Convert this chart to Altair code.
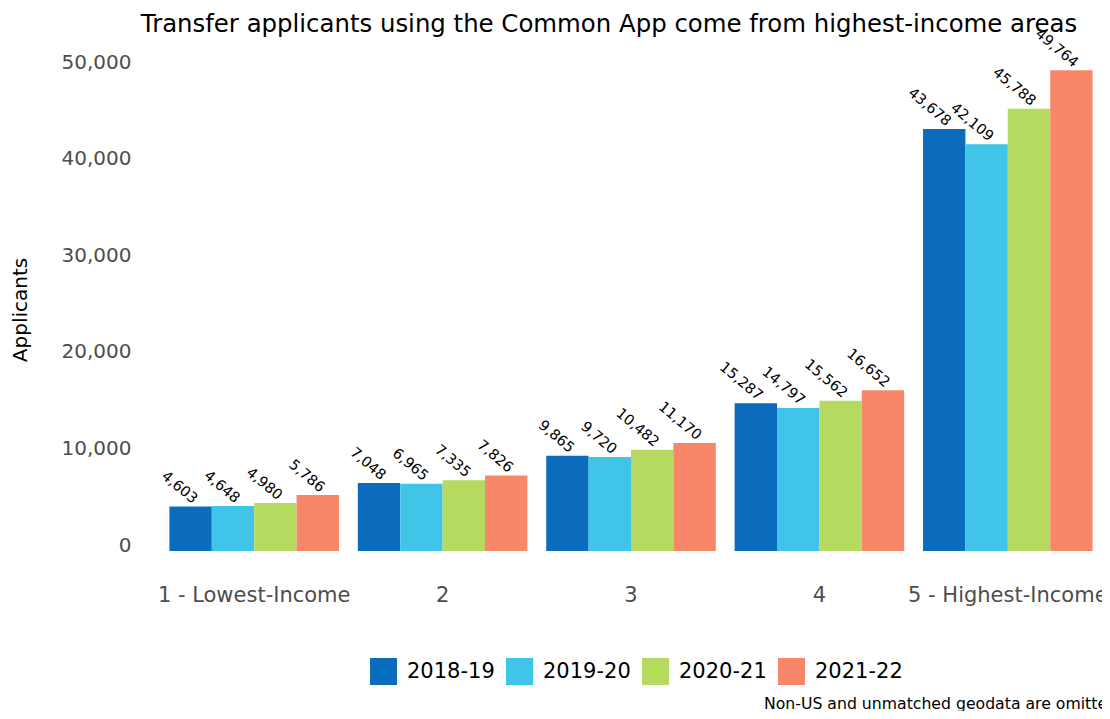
import altair as alt
import pandas as pd

groups = ["1 - Lowest-Income", "2", "3", "4", "5 - Highest-Income"]
years = ["2018-19", "2019-20", "2020-21", "2021-22"]
v_2018 = [4603, 7048, 9865, 15287, 43678]
v_2019 = [4648, 6965, 9720, 14797, 42109]
v_2020 = [4980, 7335, 10482, 15562, 45788]
v_2021 = [5786, 7826, 11170, 16652, 49764]
colors = ["#0b6cbd", "#40c5e9", "#b6d95f", "#f8876a"]
y_ticks = [0, 10000, 20000, 30000, 40000, 50000]
title_text = "Transfer applicants using the Common App come from highest-income areas"
caption_text = "Non-US and unmatched geodata are omitted"

rows = []
for yr, vals in zip(years, [v_2018, v_2019, v_2020, v_2021]):
    for g, v in zip(groups, vals):
        rows.append({"group": g, "year": yr, "applicants": v})
df = pd.DataFrame(rows)

FONT = "DejaVu Sans"

x_enc = alt.X("group:N", sort=groups, title=None,
              scale=alt.Scale(paddingInner=0.1, paddingOuter=0.05),
              axis=alt.Axis(labelAngle=0, labelFontSize=21, labelColor="#4d4d4d",
                            labelFont=FONT, labelPadding=33, labelLimit=500,
                            ticks=False, domain=False, grid=False))
xo_enc = alt.XOffset("year:N", sort=years, scale=alt.Scale(paddingInner=0, paddingOuter=0))
y_enc = alt.Y("applicants:Q", title="Applicants",
              scale=alt.Scale(domain=[0, 50000], nice=False),
              axis=alt.Axis(values=y_ticks, labelExpr="format(datum.value, ',')",
                            labelFontSize=20, labelColor="#4d4d4d", labelFont=FONT,
                            labelPadding=29, labelOffset=-6, ticks=False, domain=False,
                            grid=False, titleFontSize=20, titleFont=FONT,
                            titleFontWeight="normal", titleColor="black", titlePadding=31))
color_enc = alt.Color("year:N", sort=years,
                      scale=alt.Scale(domain=years, range=colors),
                      legend=alt.Legend(orient="none", direction="horizontal",
                                        legendX=210, legendY=590, title=None,
                                        symbolType="square", symbolSize=729,
                                        symbolStrokeWidth=0, symbolOpacity=1,
                                        labelFontSize=21, labelFont=FONT, labelColor="black",
                                        labelOffset=10, columnPadding=11, padding=0))

base = alt.Chart(df).encode(x=x_enc, xOffset=xo_enc, y=y_enc)

bars = base.mark_bar(opacity=1).encode(color=color_enc)
labels = base.mark_text(align="right", baseline="bottom", angle=40, fontSize=14.5,
                        font=FONT, color="black").encode(text=alt.Text("applicants:Q", format=","))

caption = alt.Chart(pd.DataFrame({"t": [caption_text]})).mark_text(
    align="left", baseline="alphabetic", fontSize=15.7, font=FONT, color="black"
).encode(x=alt.value(604), y=alt.value(641), text="t:N")

chart = alt.layer(bars, labels, caption).properties(
    width=942, height=483,
    background="white",
    title=alt.Title(title_text, fontSize=24.4, font=FONT, fontWeight="normal",
                    anchor="middle", dx=-22, dy=27, offset=16, color="black"),
    autosize=alt.AutoSizeParams(type="none"),
    padding={"left": 152, "top": 60, "right": 0, "bottom": 160},
).configure_view(strokeWidth=0)

chart.save("out.html", embed_options={"renderer": "svg", "actions": False})
